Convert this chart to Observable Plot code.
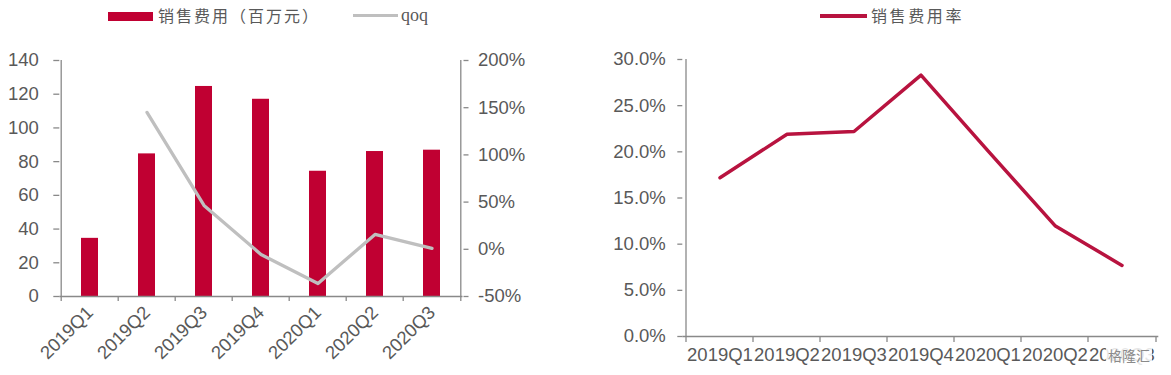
<!DOCTYPE html>
<html>
<head>
<meta charset="utf-8">
<script src="https://cdn.jsdelivr.net/npm/d3@7"></script>
<script src="https://cdn.jsdelivr.net/npm/@observablehq/plot@0.6"></script>
<style>
  html, body { margin: 0; padding: 0; background: #fff; }
  #wrap { position: relative; width: 1171px; height: 375px; overflow: hidden; background: #fff; }
  .abs { position: absolute; }
  .cjk { font-family: "Noto Sans CJK SC", sans-serif; color: #595959; font-size: 16px; line-height: 20px; white-space: nowrap; }
</style>
</head>
<body>
<div id="wrap">
  <div class="abs" style="left:108px;top:12px;width:45px;height:9px;background:#C00032;"></div>
  <div class="abs cjk" style="left:158px;top:5px;letter-spacing:2px;">销售费用（百万元）</div>
  <div class="abs" style="left:353px;top:14px;width:45px;height:3px;background:#BFBFBF;"></div>
  <div class="abs" style="left:401px;top:5px;font-family:'Liberation Serif',serif;font-size:18px;line-height:20px;color:#595959;">qoq</div>

  <div class="abs" style="left:820px;top:14px;width:47px;height:3.5px;background:#B8133F;"></div>
  <div class="abs cjk" style="left:871px;top:5px;letter-spacing:2.6px;">销售费用率</div>

  <div id="left" class="abs" style="left:0;top:40px;"></div>
  <div id="right" class="abs" style="left:580px;top:40px;"></div>
  <div class="abs cjk" style="left:1106px;top:345px;font-size:14px;background:rgba(255,255,255,0.85);color:#8a8a8a;padding:0 2px;">格隆汇</div>
</div>
<script>
const quarters = ["2019Q1","2019Q2","2019Q3","2019Q4","2020Q1","2020Q2","2020Q3"];
const salesExpense = [34.5, 84.6, 124.6, 117.0, 74.3, 86.0, 86.8];
const qoq = [null, 1.45, 0.465, -0.055, -0.363, 0.158, 0.01];
const expenseRatio = [0.172, 0.219, 0.222, 0.283, 0.201, 0.120, 0.077];
const leftTicks = [0, 20, 40, 60, 80, 100, 120, 140];
const qoqTicks = [-0.5, 0, 0.5, 1, 1.5, 2];
const ratioTicks = [0, 0.05, 0.10, 0.15, 0.20, 0.25, 0.30];

const BAR = "#C00032", GREY = "#BFBFBF", LINE = "#B8133F";
const AXIS = "#898989", TEXT = "#595959";
const font = {fontSize: "18.5px", fontFamily: "'Liberation Sans', Arial, sans-serif", background: "transparent", color: TEXT};

// left dual-axis chart
const barMax = 140;
const qoqMin = qoqTicks[0], qoqMax = qoqTicks[qoqTicks.length - 1];
const toBar = v => (v - qoqMin) / (qoqMax - qoqMin) * barMax;
const fromBar = d => d / barMax * (qoqMax - qoqMin) + qoqMin;

const rows = quarters.map((q, i) => ({q, v: salesExpense[i], g: qoq[i]}));
const L = {width: 540, height: 335, ml: 59.3, mr: 77.5, mt: 20, mb: 79};
const stepL = (L.width - L.ml - L.mr) / quarters.length;

const left = Plot.plot({
  width: L.width, height: L.height,
  marginLeft: L.ml, marginRight: L.mr, marginTop: L.mt, marginBottom: L.mb,
  style: font,
  x: {type: "band", domain: quarters, padding: 0, axis: null},
  y: {domain: [0, barMax], axis: null},
  marks: [
    Plot.barY(rows, {x: "q", y: "v", fill: BAR, insetLeft: 20, insetRight: 20}),
    Plot.line(rows.filter(d => d.g != null), {x: "q", y: d => toBar(d.g), stroke: GREY, strokeWidth: 3.3}),
    Plot.ruleY([0], {stroke: AXIS, strokeWidth: 1.3}),
    Plot.ruleX(quarters.slice(0, 1), {x: d => d, dx: -stepL / 2, y1: 0, y2: barMax, stroke: AXIS, strokeWidth: 1.3}),
    Plot.ruleX(quarters.slice(-1), {x: d => d, dx: stepL / 2, y1: 0, y2: barMax, stroke: AXIS, strokeWidth: 1.3}),
    Plot.axisY(leftTicks, {anchor: "left", label: null, tickSize: 6, tickPadding: 15, stroke: AXIS, fill: TEXT, strokeWidth: 1.3}),
    Plot.axisY(qoqTicks.map(toBar), {anchor: "right", label: null, tickSize: 5, tickPadding: 10, stroke: AXIS, fill: TEXT, strokeWidth: 1.3,
      tickFormat: d => Math.round(fromBar(d) * 100) + "%"}),
    Plot.axisX(quarters, {anchor: "bottom", label: null, tickSize: 5, dx: -stepL / 2, stroke: AXIS, strokeWidth: 1.3, tickFormat: () => ""}),
    Plot.axisX(quarters.slice(-1), {anchor: "bottom", label: null, tickSize: 5, dx: stepL / 2, stroke: AXIS, strokeWidth: 1.3, tickFormat: () => ""}),
    Plot.axisX(quarters, {anchor: "bottom", label: null, tickSize: 0, tickPadding: 13, tickRotate: -45, fill: TEXT})
  ]
});
document.getElementById("left").appendChild(left);

// right ratio chart
const R = {width: 591, height: 335, ml: 102.3, mr: 12.7, mt: 19, mb: 39};
const stepR = (R.width - R.ml - R.mr) / quarters.length;
const ratioRows = quarters.map((q, i) => ({q, r: expenseRatio[i]}));

const right = Plot.plot({
  width: R.width, height: R.height,
  marginLeft: R.ml, marginRight: R.mr, marginTop: R.mt, marginBottom: R.mb,
  style: font,
  x: {type: "band", domain: quarters, padding: 0, axis: null},
  y: {domain: [0, 0.30], axis: null},
  marks: [
    Plot.line(ratioRows, {x: "q", y: "r", stroke: LINE, strokeWidth: 3.5}),
    Plot.ruleY([0], {stroke: AXIS, strokeWidth: 1.3}),
    Plot.ruleX(quarters.slice(0, 1), {x: d => d, dx: -stepR / 2, y1: 0, y2: 0.30, stroke: AXIS, strokeWidth: 1.3}),
    Plot.axisY(ratioTicks, {anchor: "left", label: null, tickSize: 5, tickPadding: 12, stroke: AXIS, fill: TEXT, strokeWidth: 1.3,
      tickFormat: d3.format(".1%")}),
    Plot.axisX(quarters, {anchor: "bottom", label: null, tickSize: 6, dx: -stepR / 2, stroke: AXIS, strokeWidth: 1.3, tickFormat: () => ""}),
    Plot.axisX(quarters.slice(-1), {anchor: "bottom", label: null, tickSize: 6, dx: stepR / 2, stroke: AXIS, strokeWidth: 1.3, tickFormat: () => ""}),
    Plot.axisX(quarters, {anchor: "bottom", label: null, tickSize: 0, tickPadding: 11, fill: TEXT})
  ]
});
document.getElementById("right").appendChild(right);
</script>
</body>
</html>
